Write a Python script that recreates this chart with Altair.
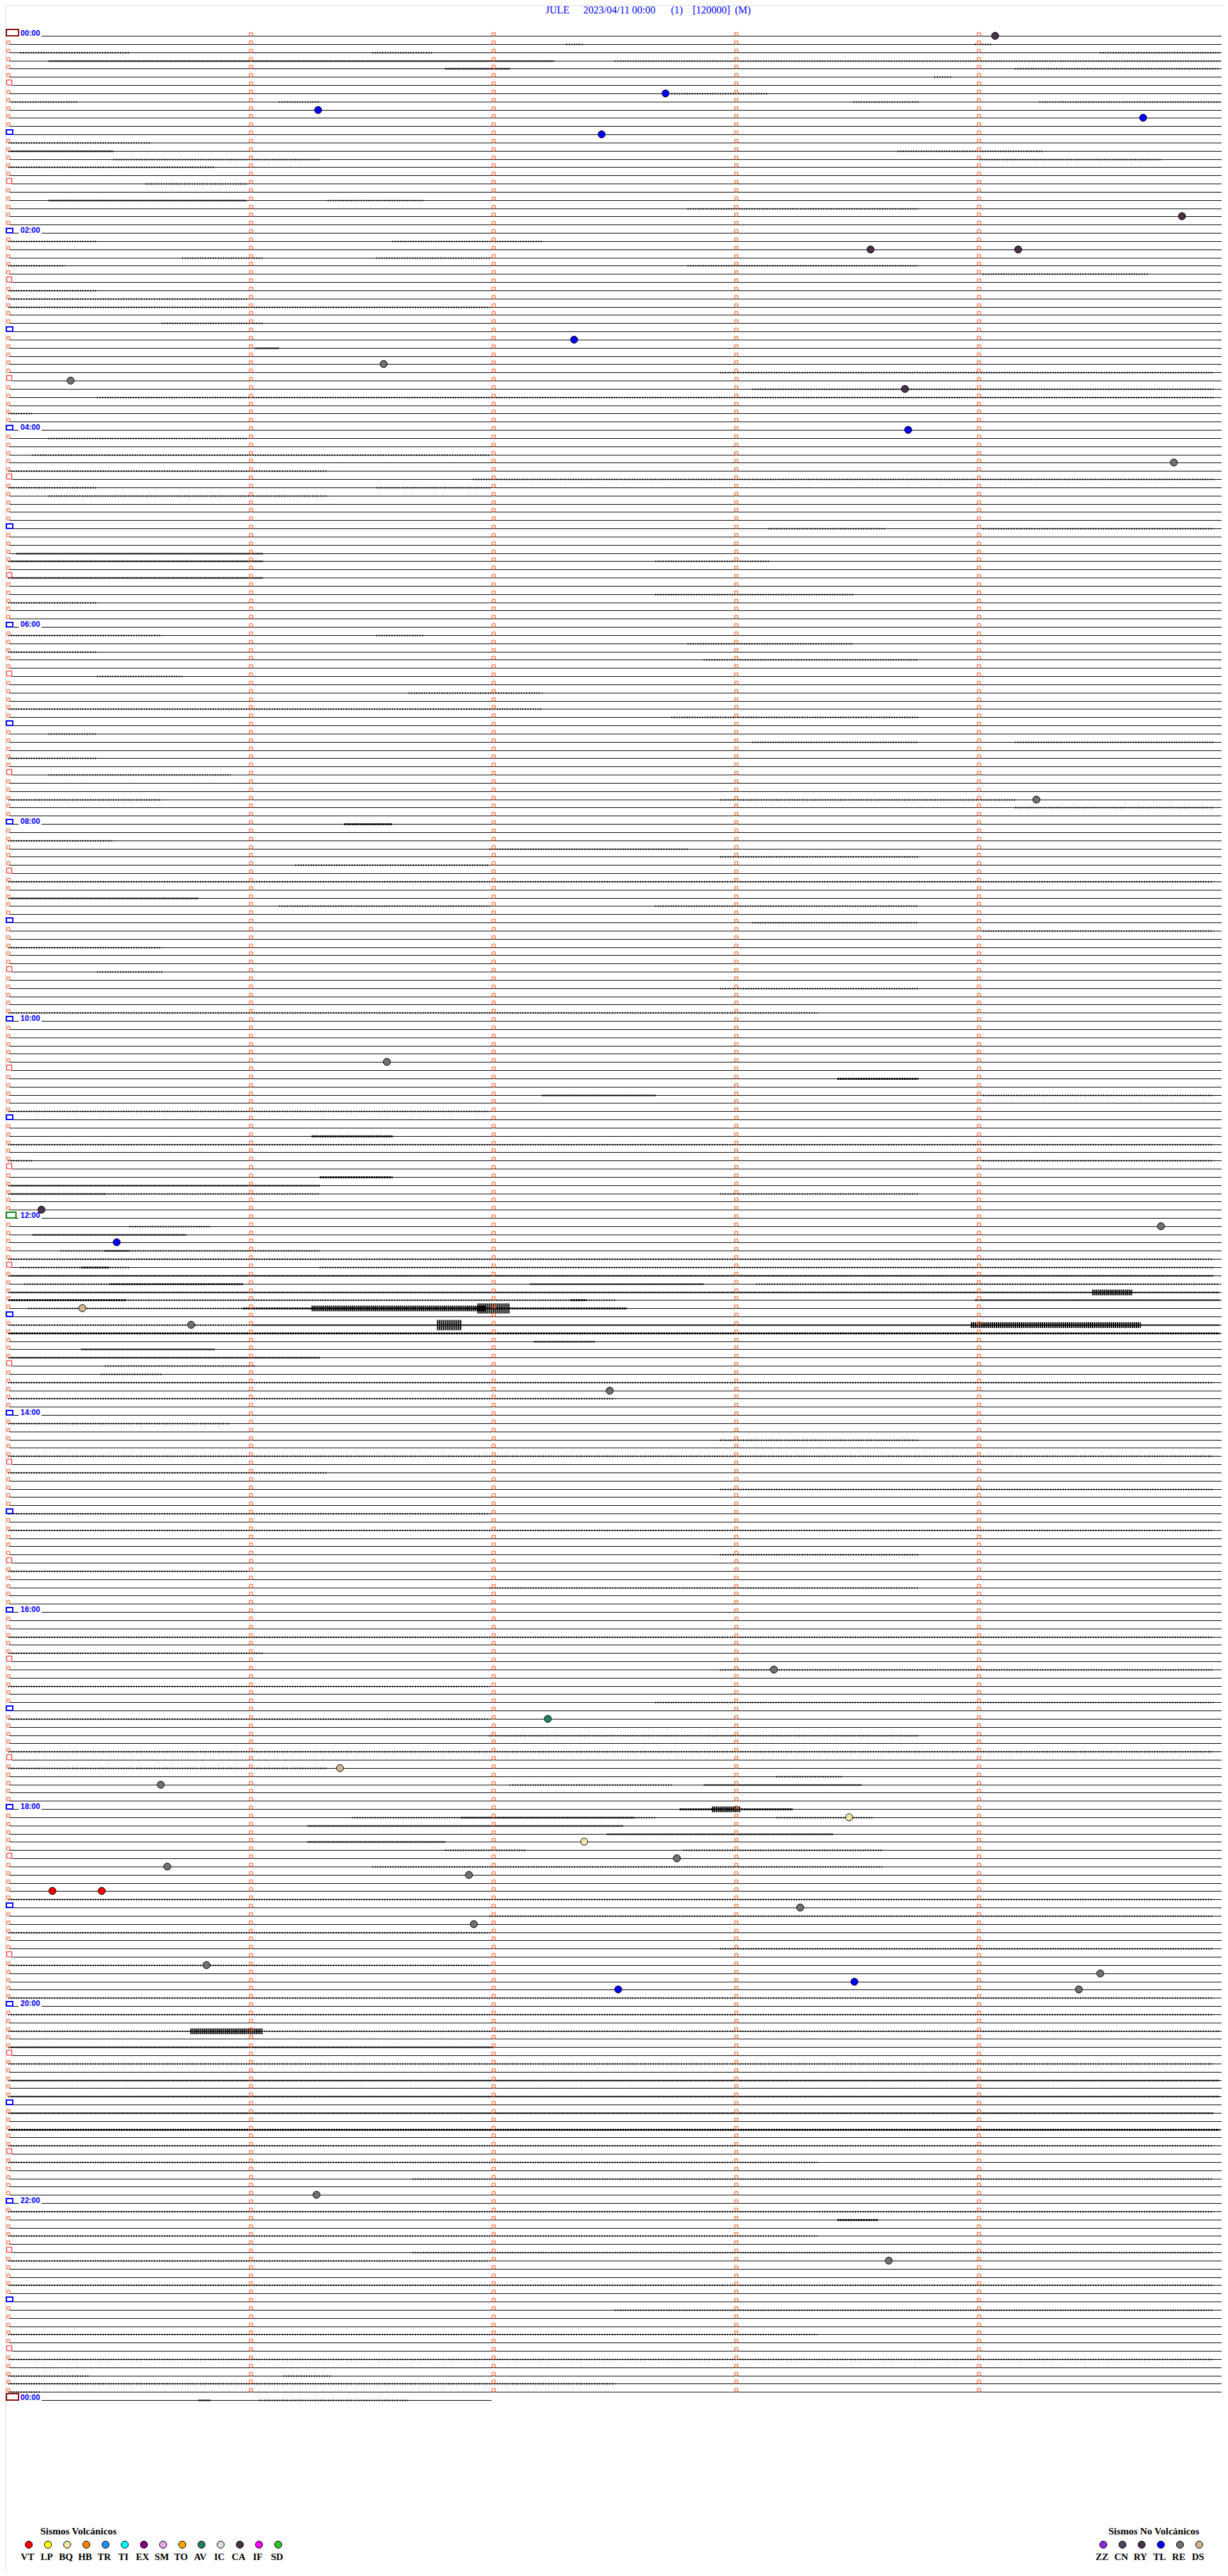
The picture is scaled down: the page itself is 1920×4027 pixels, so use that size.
import altair as alt
import pandas as pd

# ---------------- data ----------------
N_ROWS = 289            # 24 h of 5-minute traces + the next 00:00 row
LAST_ROW_END = 119.5    # seconds shown on the final (partial) row

title_parts = ["JULE", "2023/04/11 00:00", "(1)", "[120000]", "(M)"]
hour_labels = ["00:00", "02:00", "04:00", "06:00", "08:00", "10:00", "12:00",
               "14:00", "16:00", "18:00", "20:00", "22:00", "00:00"]

# events: trace row (5-min line index), second within the line, type
event_rows = [0, 7, 9, 10, 12, 22, 26, 26, 37, 40, 42, 43, 48, 52, 93, 125, 143, 145,
              147, 155, 157, 165, 199, 205, 211, 213, 217, 220, 222, 223, 224, 226,
              226, 228, 230, 235, 236, 237, 238, 238, 263, 271]
event_secs = [244.0, 162.5, 76.6, 280.6, 146.7, 290.2, 213.2, 249.7, 139.9, 92.8, 15.4,
              221.7, 222.5, 288.2, 254.2, 93.6, 8.2, 285.0, 26.8, 18.3, 45.2, 148.7,
              189.3, 133.4, 82.0, 37.7, 207.9, 142.4, 165.3, 39.3, 113.9, 10.9, 23.1,
              195.8, 115.1, 49.0, 270.0, 209.2, 150.8, 264.7, 76.2, 217.7]
event_types = ["CA", "TL", "TL", "TL", "TL", "CA", "CA", "CA", "TL", "RE", "RE", "CA",
               "TL", "RE", "RE", "RE", "CA", "RE", "TL", "DS", "RE", "RE", "RE", "AV",
               "DS", "RE", "BQ", "BQ", "RE", "RE", "RE", "VT", "VT", "RE", "RE", "RE",
               "RE", "TL", "TL", "RE", "RE", "RE"]

volc_codes = ["VT", "LP", "BQ", "HB", "TR", "TI", "EX", "SM", "TO", "AV", "IC", "CA", "IF", "SD"]
volc_colors = ["#FF0000", "#FFFF00", "#F0E6A8", "#FF8000", "#1E90FF", "#00FFFF", "#800080",
               "#E8A8E8", "#FFA500", "#208060", "#DCDCDC", "#4B304B", "#FF00FF", "#30C030"]
novolc_codes = ["ZZ", "CN", "RY", "TL", "RE", "DS"]
novolc_colors = ["#8A2BE2", "#504060", "#4B3050", "#0000FF", "#707070", "#D2B48C"]

# noise segments on the traces: (row, start s, end s, level 1..5)
noise_segments = [
    # 00:00-02:00
    (1, 138, 142, 1), (1, 239, 243, 1),
    (2, 3, 30, 1), (2, 90, 105, 1), (2, 270, 300, 1),
    (3, 10, 135, 2), (3, 150, 300, 1), (4, 108, 124, 2), (4, 249, 300, 1),
    (5, 229, 233, 1), (7, 164, 188, 1),
    (8, 1, 17, 1), (8, 67, 77, 1), (8, 209, 225, 1), (8, 255, 300, 1),
    (13, 0, 35, 1), (14, 0, 26, 2), (14, 220, 256, 1), (15, 26, 77, 1), (15, 240, 285, 1),
    (16, 0, 51, 1), (18, 34, 59, 1), (20, 10, 59, 2), (20, 79, 103, 1), (21, 168, 225, 1),
    # 02:00-04:00
    (25, 0, 22, 1), (25, 95, 132, 1), (27, 43, 63, 1), (27, 91, 119, 1),
    (28, 0, 14, 1), (28, 168, 225, 1), (29, 241, 282, 1), (31, 0, 22, 1),
    (32, 0, 59, 1), (33, 0, 119, 1), (35, 38, 63, 1), (38, 61, 67, 2),
    (41, 176, 298, 1), (43, 184, 298, 1), (44, 22, 298, 1), (46, 0, 6, 1),
    # 04:00-06:00
    (49, 10, 59, 1), (51, 6, 119, 1), (53, 0, 79, 1), (54, 115, 298, 1),
    (55, 0, 22, 1), (55, 91, 119, 1), (56, 10, 79, 1), (60, 188, 217, 1),
    (60, 241, 298, 1), (63, 2, 63, 2), (64, 0, 63, 2), (64, 160, 188, 1),
    (66, 0, 63, 2), (68, 160, 209, 1), (69, 0, 22, 1),
    # 06:00-08:00
    (73, 0, 38, 1), (73, 91, 103, 1), (74, 168, 209, 1), (75, 0, 22, 1),
    (76, 172, 225, 1), (78, 22, 43, 1), (80, 99, 132, 1), (82, 0, 132, 1),
    (83, 164, 225, 1), (85, 10, 22, 1), (86, 184, 225, 1), (86, 249, 298, 1),
    (88, 0, 22, 1), (90, 10, 55, 1), (93, 0, 38, 1), (93, 176, 249, 1), (94, 249, 298, 1),
    # 08:00-10:00
    (96, 83, 95, 3), (98, 0, 26, 1), (99, 119, 168, 1), (100, 176, 225, 1),
    (101, 71, 119, 1), (103, 0, 298, 1), (105, 0, 47, 2), (106, 67, 119, 1),
    (106, 160, 225, 1), (108, 184, 225, 1), (109, 241, 298, 1), (111, 0, 38, 1),
    (114, 22, 38, 1), (116, 176, 225, 1), (119, 0, 200, 1),
    # 10:00-12:00
    (127, 205, 225, 3), (129, 132, 160, 2), (129, 241, 298, 1), (131, 0, 119, 1),
    (134, 75, 95, 3), (135, 0, 298, 1), (137, 0, 6, 1), (137, 241, 298, 1),
    (139, 77, 95, 3), (141, 176, 225, 1),
    # 12:00-14:00
    (140, 0, 77, 2), (141, 0, 24, 2), (141, 24, 77, 1), (145, 30, 50, 1),
    (146, 6, 44, 2), (148, 13, 77, 1), (148, 24, 30, 2), (149, 0, 298, 1),
    (150, 3, 30, 1), (150, 18, 25, 2), (150, 77, 298, 1), (151, 0, 298, 2),
    (152, 4, 58, 1), (152, 25, 58, 2), (152, 129, 172, 2),
    (152, 185, 300, 1), (153, 0, 300, 2), (153, 268, 278, 4), (154, 0, 29, 3),
    (154, 29, 150, 1), (154, 139, 143, 3), (154, 239, 300, 2), (155, 5, 58, 1),
    (155, 58, 153, 3), (155, 75, 118, 4), (155, 116, 124, 5), (157, 0, 60, 1),
    (157, 60, 300, 2), (157, 106, 112, 5), (157, 238, 280, 4), (158, 0, 300, 3),
    (159, 130, 145, 2), (160, 18, 51, 2), (161, 0, 77, 2), (162, 24, 61, 1),
    (163, 23, 38, 1), (164, 0, 298, 1), (166, 0, 150, 1),
    # 14:00-16:00
    (169, 0, 55, 1), (171, 176, 225, 1), (173, 0, 298, 1), (175, 0, 79, 1),
    (177, 176, 298, 1), (180, 0, 119, 1), (182, 0, 298, 1), (185, 176, 225, 1),
    (187, 0, 59, 1), (189, 119, 225, 1),
    # 16:00-18:00
    (195, 0, 298, 1), (197, 0, 63, 1), (199, 176, 298, 1), (201, 0, 119, 1),
    (203, 160, 298, 1), (205, 0, 119, 1), (207, 119, 225, 1), (209, 0, 298, 1),
    (211, 0, 79, 1),
    # 18:00-20:00
    (212, 190, 206, 1), (213, 124, 164, 1), (213, 172, 211, 2), (216, 166, 194, 3),
    (216, 174, 181, 4), (217, 85, 160, 1), (217, 112, 155, 2), (217, 190, 214, 1),
    (218, 74, 152, 2), (219, 148, 204, 2), (220, 74, 108, 2), (221, 108, 128, 1),
    (221, 167, 216, 1), (223, 90, 216, 1), (227, 0, 298, 1), (229, 119, 298, 1),
    (231, 0, 119, 1), (233, 176, 298, 1), (235, 0, 119, 1), (239, 0, 298, 1),
    # 20:00-22:00
    (241, 0, 298, 1), (243, 0, 300, 1), (243, 45, 63, 4), (245, 0, 120, 2),
    (247, 0, 298, 1), (249, 0, 300, 2), (251, 0, 300, 2), (253, 0, 298, 2),
    (255, 0, 300, 3), (257, 0, 298, 1), (259, 0, 200, 1), (261, 100, 298, 1),
    # 22:00-24:00
    (265, 0, 298, 1), (266, 205, 215, 3), (268, 0, 200, 1), (270, 100, 298, 1),
    (271, 0, 119, 1), (274, 0, 298, 1), (277, 150, 298, 1), (280, 0, 200, 1),
    (283, 0, 298, 1), (285, 0, 20, 1), (285, 68, 80, 1), (286, 0, 150, 1),
    (287, 0, 8, 1), (288, 47, 50, 2), (288, 62, 99, 1),
]

# ---------------- tables built from the data ----------------
def row_kind(r):
    if r in (0, N_ROWS - 1):
        return "day"
    if r == 144:
        return "noon"
    if r % 24 == 0:
        return "label"
    if r % 12 == 0:
        return "hour"
    if r % 12 == 6:
        return "half"
    return "plain"

# where each trace line starts (seconds) depends on the marker drawn at its start
start_sec = {"day": 8.2, "noon": 8.2, "label": 8.2, "hour": 1.27, "half": 0.95, "plain": 0.32}
base = []
for r in range(N_ROWS):
    k = row_kind(r)
    end = LAST_ROW_END if r == N_ROWS - 1 else 300.0
    base.append({"row": r, "t0": start_sec[k], "t1": end})
    if k == "label":
        base.append({"row": r, "t0": 1.27, "t1": 2.55})
    if k == "noon":
        base.append({"row": r, "t0": 2.0, "t1": 2.55})
base_df = pd.DataFrame(base)

sq = []
for r in range(N_ROWS - 1):
    for m in range(5):
        if m == 0 and row_kind(r) != "plain":
            continue
        sq.append({"row": r, "t": m * 60})
sq_df = pd.DataFrame(sq)

box_df = pd.DataFrame([{"row": r, "kind": row_kind(r), "t": 0} for r in range(N_ROWS)
                       if row_kind(r) != "plain"])
lab_df = pd.DataFrame({"row": [i * 24 for i in range(len(hour_labels))],
                       "label": hour_labels, "t": 0})
ev_df = pd.DataFrame({"row": event_rows, "sec": event_secs, "type": event_types})
noise_df = pd.DataFrame(noise_segments, columns=["row", "t0", "t1", "lvl"])
noise_df["t1"] = noise_df["t1"].clip(upper=299.5)

# ---------------- scales ----------------
xs = alt.Scale(domain=[0, 300], range=[5, 1902])
ys = alt.Scale(domain=[0, 288], range=[48, 3744], round=True)
X = lambda f: alt.X(f, type="quantitative", scale=xs, axis=None)
Y = lambda f: alt.Y(f, type="quantitative", scale=ys, axis=None)

layers = []

# noise texture
noise_styles = {1: (3, [1, 3]), 2: (3, [1, 1]), 3: (3, [3, 1]), 4: (9, [2, 1]), 5: (16, [2, 1])}
for lvl, (w, dash) in noise_styles.items():
    layers.append(
        alt.Chart(noise_df).transform_filter(alt.datum.lvl == lvl)
        .mark_rule(color="black", strokeWidth=w, strokeDash=dash, yOffset=0.5)
        .encode(x=X("t0"), x2="t1", y=Y("row"))
    )

# trace baselines
layers.append(
    alt.Chart(base_df).mark_rule(color="black", strokeWidth=1, yOffset=0.5)
    .encode(x=X("t0"), x2="t1", y=Y("row"))
)

# minute markers
layers.append(
    alt.Chart(sq_df).mark_point(shape="square", size=25, filled=False, color="#FF4A10",
                                strokeWidth=1, yOffset=-2.5, opacity=1)
    .encode(x=X("t"), y=Y("row"))
)

# start-of-line boxes
box_styles = {
    "day": ("#8B0000", 2, -3, 16, -10),
    "noon": ("#008000", 2, -3, 12, -9),
    "label": ("#0000FF", 2, -3, 7, -7),
    "hour": ("#0000FF", 2, -3, 7, -7),
    "half": ("#FF0000", 1, -2.5, 5.5, -8),
}
for kind, (col, sw, xo, x2o, yo) in box_styles.items():
    layers.append(
        alt.Chart(box_df).transform_filter(alt.datum.kind == kind)
        .mark_rect(fillOpacity=0, stroke=col, strokeWidth=sw,
                   xOffset=xo, x2Offset=x2o, yOffset=yo, y2Offset=0)
        .encode(x=X("t"), x2="t", y=Y("row"), y2="row")
    )

# hour labels
layers.append(
    alt.Chart(lab_df).mark_text(align="left", baseline="alphabetic", dx=19, dy=0,
                                font="Liberation Sans", fontWeight="bold", fontSize=12,
                                color="#0000FF")
    .encode(x=X("t"), y=Y("row"), text="label:N")
)

# events
all_codes = volc_codes + novolc_codes
all_colors = volc_colors + novolc_colors
layers.append(
    alt.Chart(ev_df).mark_point(shape="circle", filled=True, size=125, stroke="black",
                                strokeWidth=1, opacity=1)
    .encode(x=X("sec"), y=Y("row"),
            fill=alt.Fill("type:N", scale=alt.Scale(domain=all_codes, range=all_colors),
                          legend=None))
)

# title pieces
title_x = [845, 904, 1041, 1075, 1141]
for txt, px in zip(title_parts, title_x):
    layers.append(
        alt.Chart(pd.DataFrame({"t": [txt]})).mark_text(
            align="left", baseline="alphabetic", font="Liberation Serif", fontSize=16,
            color="#0000FF")
        .encode(x=alt.value(px), y=alt.value(13), text="t:N")
    )

# legends
def legend(codes, colors, header, header_x, first_x):
    out = [alt.Chart(pd.DataFrame({"t": [header]})).mark_text(
        align="left", baseline="alphabetic", font="Liberation Serif", fontSize=15.5,
        fontWeight="bold", color="black")
        .encode(x=alt.value(header_x), y=alt.value(3954), text="t:N")]
    for i, (c, col) in enumerate(zip(codes, colors)):
        d = pd.DataFrame({"t": [c]})
        cx = first_x + 30 * i
        out.append(alt.Chart(d).mark_point(shape="circle", filled=True, size=125,
                                           fill=col, stroke="black", strokeWidth=1, opacity=1)
                   .encode(x=alt.value(cx), y=alt.value(3970)))
        out.append(alt.Chart(d).mark_text(align="center", baseline="alphabetic",
                                          font="Liberation Serif", fontSize=15,
                                          fontWeight="bold", color="black", dx=-2)
                   .encode(x=alt.value(cx), y=alt.value(3994), text="t:N"))
    return out

layers += legend(volc_codes, volc_colors, "Sismos Volcánicos", 55, 37)
layers += legend(novolc_codes, novolc_colors, "Sismos No Volcánicos", 1725, 1717)

chart = alt.layer(*layers).properties(
    width=1904, height=4011, padding=0, autosize=alt.AutoSizeParams(type="none")
).configure_view(strokeWidth=0).configure(background="white")

chart.save("out.html", embed_options={"renderer": "svg", "actions": False})
